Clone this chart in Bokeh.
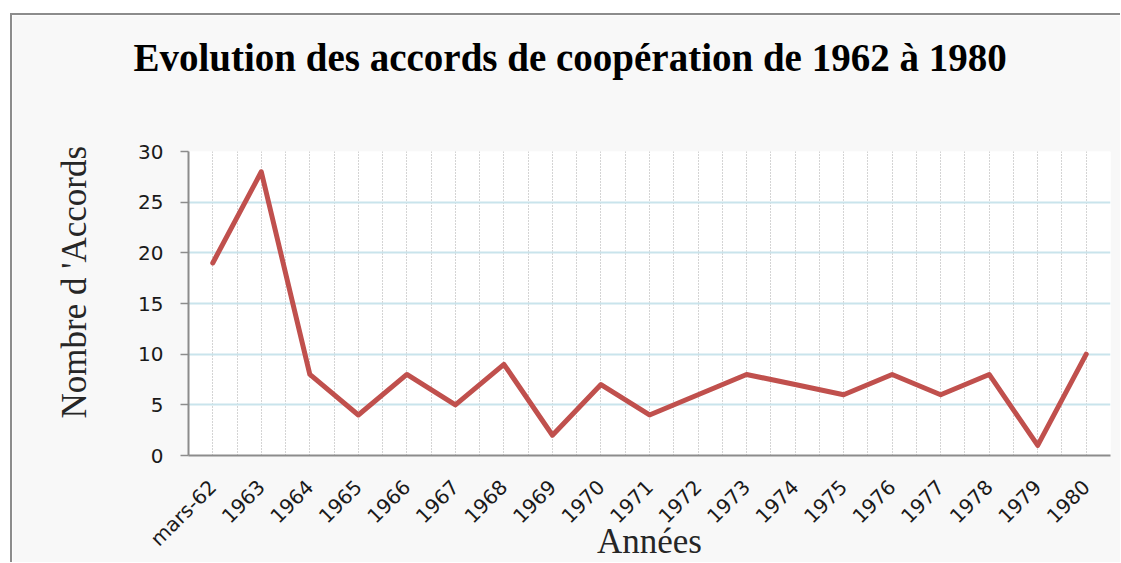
import math
from bokeh.plotting import figure
from bokeh.models import Range1d, FixedTicker, Title
from bokeh.embed import file_html
from bokeh.resources import INLINE

years = ["mars-62", "1963", "1964", "1965", "1966", "1967", "1968", "1969", "1970",
         "1971", "1972", "1973", "1974", "1975", "1976", "1977", "1978", "1979", "1980"]
accords = [19, 28, 8, 4, 8, 5, 9, 2, 7, 4, 6, 8, 7, 6, 8, 6, 8, 1, 10]
y_ticks = [0, 5, 10, 15, 20, 25, 30]

title_text = "Evolution des accords de coopération de 1962 à 1980"
x_title = "Années"
y_title = "Nombre d 'Accords"

xs = list(range(len(years)))

p = figure(width=1110, height=549, output_backend="svg", toolbar_location=None,
           x_range=Range1d(-0.5, len(years) - 0.5), y_range=Range1d(0, 30),
           min_border_left=176, min_border_right=12, min_border_top=136, min_border_bottom=108)
p.styles = {"border-top": "2px solid #8c8c8c", "border-left": "2px solid #8c8c8c",
            "margin-left": "10px", "margin-top": "13px"}
p.background_fill_color = "white"
p.border_fill_color = "#f8f8f8"
p.outline_line_color = None

# main title (outermost) with a spacer between it and the frame
p.title.text = title_text
p.title.text_font = "Liberation Serif"
p.title.text_font_style = "bold"
p.title.text_font_size = "39px"
p.title.text_color = "black"
p.title.align = "left"
p.title.offset = -55
p.add_layout(Title(text=" ", text_font_size="50px"), "above")

# grids
p.xgrid.ticker = FixedTicker(ticks=[i * 0.5 - 0.5 for i in range(2 * len(years) + 1)])
p.xgrid.grid_line_color = "#a8a8a8"
p.xgrid.grid_line_dash = "1 2"
p.xgrid.grid_line_width = 1
p.ygrid.ticker = FixedTicker(ticks=y_ticks[1:])
p.ygrid.grid_line_color = "#c9e4ec"
p.ygrid.grid_line_width = 2

tick_font = "DejaVu Sans"

# x axis
p.xaxis.ticker = FixedTicker(ticks=xs)
p.xaxis.major_label_overrides = {i: lab for i, lab in enumerate(years)}
p.xaxis.major_label_orientation = math.pi / 4
p.xaxis.major_tick_line_color = None
p.xaxis.minor_tick_line_color = None
p.xaxis.axis_line_color = "#8c8c8c"
p.xaxis.axis_line_width = 2
p.xaxis.major_label_text_font = tick_font
p.xaxis.major_label_text_font_size = "20px"
p.xaxis.major_label_text_color = "#1a1a1a"
p.xaxis.major_label_standoff = 22
p.xaxis.axis_label = x_title
p.xaxis.axis_label_text_font = "Liberation Serif"
p.xaxis.axis_label_text_font_style = "normal"
p.xaxis.axis_label_text_font_size = "35px"
p.xaxis.axis_label_text_color = "#262626"
p.xaxis.axis_label_standoff = -40

# y axis
p.yaxis.ticker = FixedTicker(ticks=y_ticks)
p.yaxis.minor_tick_line_color = None
p.yaxis.major_tick_out = 8
p.yaxis.major_tick_in = 0
p.yaxis.major_tick_line_color = "#8c8c8c"
p.yaxis.major_tick_line_width = 1.5
p.yaxis.axis_line_color = "#8c8c8c"
p.yaxis.axis_line_width = 2
p.yaxis.major_label_text_font = tick_font
p.yaxis.major_label_text_font_size = "20px"
p.yaxis.major_label_text_color = "#1a1a1a"
p.yaxis.major_label_standoff = 17

# y axis title as a side title (lets it sit off-centre like the reference)
p.add_layout(Title(text=y_title, text_font="Liberation Serif", text_font_style="normal",
                   text_font_size="35px", text_color="#262626", align="left", offset=37,
                   vertical_align="top", standoff=80), "left")

p.line(xs, accords, line_color="#c0504d", line_width=5, line_join="round", line_cap="round")

open("out.html", "w").write(file_html(p, INLINE))
